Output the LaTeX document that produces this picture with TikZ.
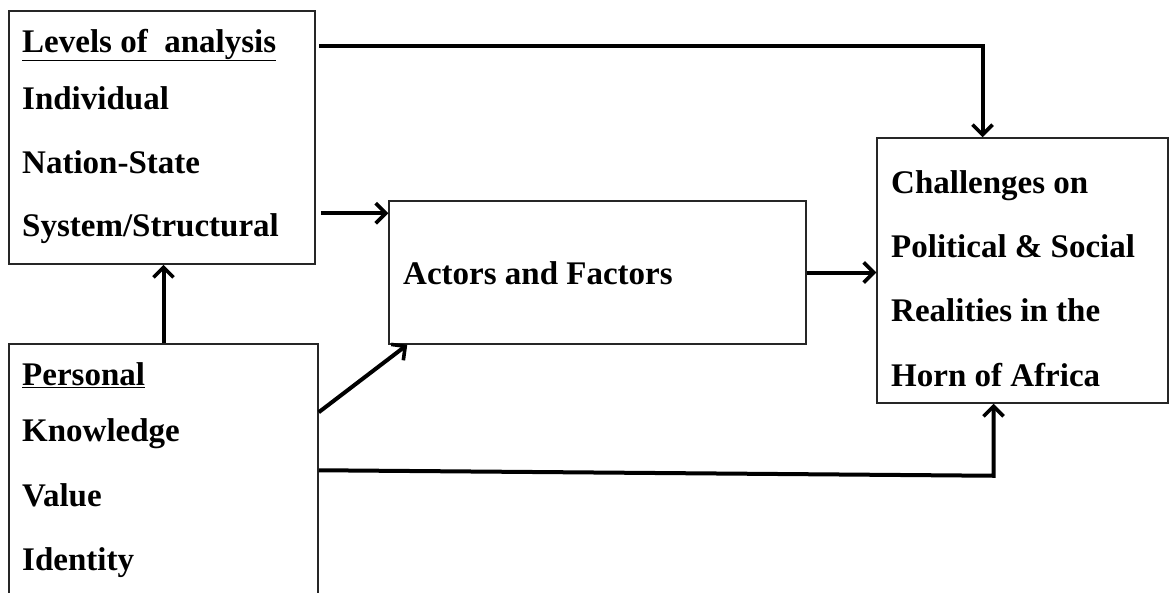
\documentclass[tikz,border=0pt]{standalone}
\usepackage{fontspec}
\setmainfont{Liberation Serif}
\usetikzlibrary{arrows.meta,calc}
\begin{document}
\begin{tikzpicture}[x=1pt,y=-1pt,
  box/.style={draw=black!85,line width=1.5pt,rectangle,inner sep=0pt},
  txt/.style={anchor=base west,inner sep=0pt,font=\bfseries\fontsize{33}{36}\selectfont},
  arr/.style={line width=4pt,-{Straight Barb[length=10pt,width=20pt,line width=3.6pt]}}]
\useasboundingbox (0,0) rectangle (1169,592);
\clip (0,0) rectangle (1169,592);
% boxes
\node[box,minimum width=306pt,minimum height=253pt] (lev) at (162,137.5) {};
\node[box,minimum width=309pt,minimum height=256pt] (per) at (163.5,472) {};
\node[box,minimum width=417pt,minimum height=143pt] (act) at (597.5,272.5) {};
\node[box,minimum width=291pt,minimum height=265pt] (chal) at (1022.5,270.5) {};
% texts
\node[txt] (l1) at (22,52) {\underline{Levels of\ \ analysis}};
\node[txt] (l2) at (22,109) {Individual};
\node[txt] (l3) at (22,173) {Nation-State};
\node[txt] (l4) at (22,236) {System/Structural};
\node[txt] (p1) at (22,385) {\underline{Personal}};
\node[txt] (p2) at (22,441) {Knowledge};
\node[txt] (p3) at (22,506) {Value};
\node[txt] (p4) at (22,570) {Identity};
\node[txt] (a1) at (403,284) {Actors and Factors};
\node[txt] (c1) at (891,193) {Challenges on};
\node[txt] (c2) at (891,257) {Political \& Social};
\node[txt] (c3) at (891,321) {Realities in the};
\node[txt] (c4) at (891,386) {Horn of Africa};
% connectors
\draw[arr] ($(lev.north east)+(3,36)$) -| ($(chal.north)+(-40,0)$);
\draw[arr] ($(lev.east |- act.north west)+(5,13)$) -- ($(act.north west)+(0,13)$);
\draw[arr] (per.north) -- (per.north |- lev.south);
\draw[arr] ($(per.north east)+(0,69)$) -- ($(act.south west)+(19,0)$);
\draw[arr] ($(per.north east)+(0,127)$) -- ($(chal.south)+(-29,72)$) -- ($(chal.south)+(-29,0)$);
\draw[arr] (act.east) -- (chal.west |- act.east);
\end{tikzpicture}
\end{document}
